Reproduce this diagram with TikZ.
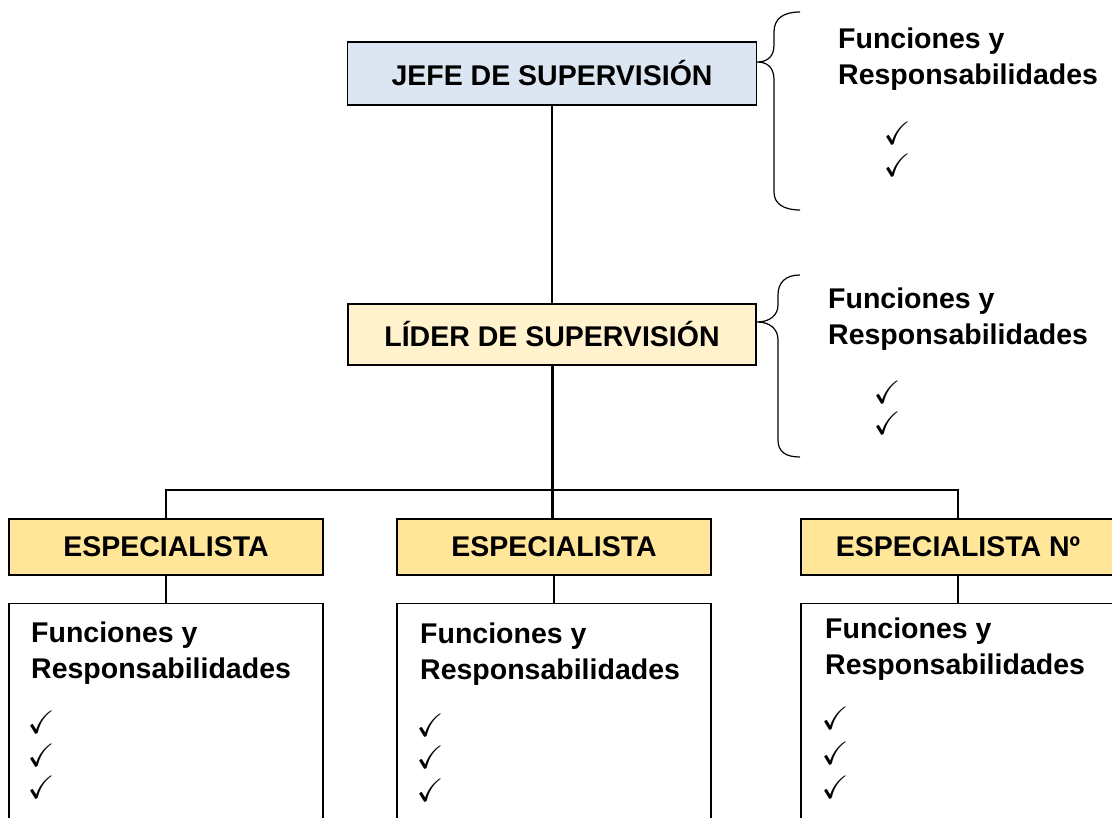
\documentclass[tikz,border=0pt]{standalone}
\usepackage{amssymb}
\usepackage{graphicx}
\usepackage{fontspec}
\setmainfont{Liberation Sans}
\definecolor{jefeblue}{HTML}{DCE6F2}
\definecolor{liderpale}{HTML}{FFF2CC}
\definecolor{espgold}{HTML}{FFE699}
\newcommand{\visto}{\scalebox{1.35}{$\checkmark$}}

\tikzset{
    cargo/.style={rectangle, draw, line width=1.6pt, inner sep=0pt, font=\bfseries\fontsize{28.5}{34}\selectfont},
    jefebox/.style={cargo, fill=jefeblue, minimum width=409pt, minimum height=63pt},
    liderbox/.style={cargo, fill=liderpale, minimum width=408pt, minimum height=61pt},
    espbox/.style={cargo, fill=espgold, minimum width=314pt, minimum height=56pt},
    funbox/.style={rectangle, draw, line width=1.4pt, minimum width=314pt, minimum height=240pt, anchor=north},
    titulo/.style={anchor=base west, align=left, inner sep=0pt, font=\bfseries\fontsize{28.5}{36}\selectfont},
    tick/.style={inner sep=0pt, font=\fontsize{24}{24}\selectfont},
    conn/.style={line width=1.2pt},
    trunk/.style={line width=3pt},
    brace/.style={line width=1.2pt}
}

\begin{document}
\begin{tikzpicture}[x=1pt, y=-1pt]
\clip (0,0) rectangle (1112,818);

% ===== Jefe =====
\node[jefebox] (jefe) at (552,73.5) {JEFE DE SUPERVISIÓN};
\draw[brace] (800,12) .. controls (784,12) and (774,18) .. (774,32) -- (774,45)
    .. controls (774,56) and (768,62) .. (757,62)
    .. controls (768,62) and (774,68) .. (774,80) -- (774,192)
    .. controls (774,204) and (784,210) .. (800,210);
% base anchor sits on the last line
\node[titulo] (fj) at (838,85) {Funciones y\\Responsabilidades};
\node[tick] (cj1) at (897,133) {\visto};
\node[tick] (cj2) at (897,165) {\visto};

% ===== Lider =====
\node[liderbox] (lider) at (552,334.5) {LÍDER DE SUPERVISIÓN};
\draw[conn] (jefe.south) -- (lider.north);
\draw[brace] (800,275) .. controls (786,275) and (778,282) .. (778,295) -- (778,305)
    .. controls (778,315) and (770,322) .. (757,322)
    .. controls (770,322) and (778,329) .. (778,340) -- (778,440)
    .. controls (778,452) and (786,457) .. (800,457);
\node[titulo] (fl) at (828,345) {Funciones y\\Responsabilidades};
\node[tick] (cl1) at (887,392) {\visto};
\node[tick] (cl2) at (887,423) {\visto};

% ===== Especialistas =====
\node[espbox] (esp1) at (166,547) {ESPECIALISTA};
\node[espbox] (esp2) at (554,547) {ESPECIALISTA};
\node[espbox] (esp3) at (958,547) {ESPECIALISTA Nº};
\coordinate (bus) at (552,490);
\draw[trunk] (lider.south) -- (lider.south |- esp2.north);
\draw[conn] (esp1.north) |- (bus) -| (esp3.north);

\node[funbox] (fun1) at (166,603) {};
\node[funbox] (fun2) at (554,603) {};
\node[funbox] (fun3) at (958,603) {};
\draw[conn] (esp1.south) -- (fun1.north);
\draw[conn] (esp2.south) -- (fun2.north);
\draw[conn] (esp3.south) -- (fun3.north);

\node[titulo] (f1) at (31,678) {Funciones y\\Responsabilidades};
\node[titulo] (f2) at (420,679) {Funciones y\\Responsabilidades};
\node[titulo] (f3) at (825,674) {Funciones y\\Responsabilidades};
\foreach \y [count=\i] in {722,755,787} \node[tick] (ca\i) at (41,\y) {\visto};
\foreach \y [count=\i] in {725,757,790} \node[tick] (cb\i) at (430,\y) {\visto};
\foreach \y [count=\i] in {718,753,787} \node[tick] (cc\i) at (835,\y) {\visto};

\end{tikzpicture}
\end{document}
